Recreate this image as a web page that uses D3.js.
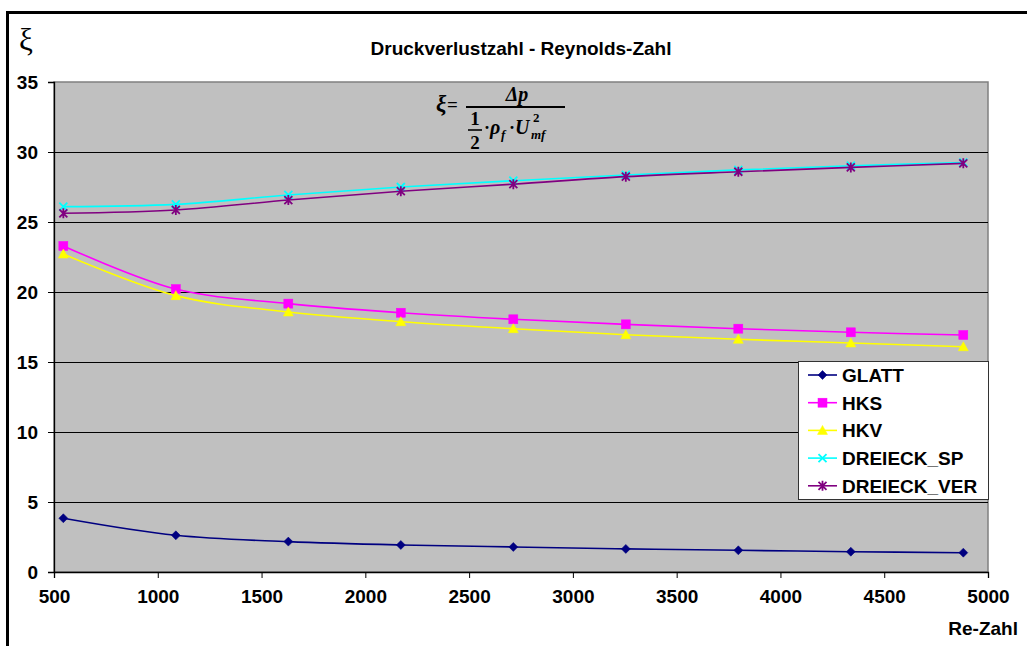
<!DOCTYPE html>
<html><head><meta charset="utf-8">
<script src="https://cdn.jsdelivr.net/npm/d3@7"></script>
<style>
html,body{margin:0;padding:0;background:#fff;}
svg text{font-family:"Liberation Sans",Arial,sans-serif;font-weight:bold;fill:#000;}
svg text.serif{font-family:"Liberation Serif","DejaVu Serif",serif;}
svg text.it{font-style:italic;}
svg text.norm{font-weight:normal;}
</style></head>
<body>
<svg id="chart" width="1027" height="646"></svg>
<script>
const reynolds = [545, 1087, 1629, 2171, 2713, 3255, 3797, 4339, 4881];
const seriesNames = ["GLATT", "HKS", "HKV", "DREIECK_SP", "DREIECK_VER"];
const glatt = [3.84, 2.62, 2.17, 1.93, 1.79, 1.65, 1.55, 1.45, 1.38];
const hks = [23.29, 20.21, 19.17, 18.52, 18.05, 17.69, 17.38, 17.12, 16.93];
const hkv = [22.71, 19.74, 18.57, 17.88, 17.38, 16.95, 16.62, 16.36, 16.09];
const dreieckSp = [26.10, 26.26, 26.93, 27.50, 27.95, 28.36, 28.72, 29.02, 29.25];
const dreieckVer = [25.62, 25.86, 26.57, 27.20, 27.70, 28.24, 28.59, 28.90, 29.19];
const xTicks = [500, 1000, 1500, 2000, 2500, 3000, 3500, 4000, 4500, 5000];
const yTicks = [0, 5, 10, 15, 20, 25, 30, 35];
const title = "Druckverlustzahl - Reynolds-Zahl";
const xTitle = "Re-Zahl";
const yTitle = "ξ";

const colors = ["#000080", "#FF00FF", "#FFFF00", "#00FFFF", "#800080"];
const markers = ["diamond", "square", "triangle", "x", "star"];
const allValues = [glatt, hks, hkv, dreieckSp, dreieckVer];

const svg = d3.select("#chart");
const L = 54, R = 988, T = 82, B = 572;
const x = d3.scaleLinear().domain([500, 5000]).range([L, R]);
const y = d3.scaleLinear().domain([0, 35]).range([B, T]);

// outer frame
svg.append("rect").attr("x", 7.5).attr("y", 12.5).attr("width", 1040).attr("height", 660)
  .attr("fill", "none").attr("stroke", "#000").attr("stroke-width", 3);

// plot area
svg.append("rect").attr("x", L).attr("y", T).attr("width", R - L).attr("height", B - T)
  .attr("fill", "#C0C0C0").attr("stroke", "#808080").attr("stroke-width", 1.5);

// gridlines
svg.append("g").selectAll("line").data(yTicks.filter(d => d > 0 && d < 35)).join("line")
  .attr("x1", L).attr("x2", R).attr("y1", d => Math.round(y(d)) + 0.5).attr("y2", d => Math.round(y(d)) + 0.5)
  .attr("stroke", "#000").attr("stroke-width", 1);

// axes
const xAxis = svg.append("g").attr("transform", `translate(0,${B})`)
  .call(d3.axisBottom(x).tickValues(xTicks).tickSize(6).tickPadding(12).tickFormat(d3.format("d")));
const yAxis = svg.append("g").attr("transform", `translate(${L},0)`)
  .call(d3.axisLeft(y).tickValues(yTicks).tickSize(6).tickPadding(10).tickFormat(d3.format("d")));
[xAxis, yAxis].forEach(a => {
  a.select(".domain").attr("stroke", "#000").attr("stroke-width", 1.3);
  a.selectAll(".tick line").attr("stroke", "#000");
  a.selectAll("text").attr("font-size", 19).attr("fill", "#000");
});

// titles
svg.append("text").attr("x", (L + R) / 2).attr("y", 55).attr("text-anchor", "middle")
  .attr("font-size", 19).text(title);
svg.append("text").attr("x", 1018).attr("y", 635).attr("text-anchor", "end")
  .attr("font-size", 19).text(xTitle);
svg.append("text").attr("class", "serif norm").attr("x", 19).attr("y", 50)
  .attr("font-size", 31).text(yTitle);

// formula
const fg = svg.append("g");
function ft(cls, xx, yy, size, txt, anchor) {
  fg.append("text").attr("class", "serif " + cls).attr("x", xx).attr("y", yy)
    .attr("font-size", size).attr("text-anchor", anchor || "start").text(txt);
}
ft("it", 436, 111, 23, "ξ");
ft("", 447, 111, 19, "=");
fg.append("line").attr("x1", 466).attr("x2", 565).attr("y1", 107).attr("y2", 107).attr("stroke", "#000").attr("stroke-width", 1.8);
ft("it", 517, 101, 20, "Δp", "middle");
ft("", 475, 125, 19, "1", "middle");
fg.append("line").attr("x1", 468).attr("x2", 482).attr("y1", 130).attr("y2", 130).attr("stroke", "#000").attr("stroke-width", 1.6);
ft("", 475, 149, 19, "2", "middle");
ft("", 484, 134, 18, "·");
ft("it", 490, 134, 20, "ρ");
ft("it", 501, 139, 13, "f");
ft("", 509, 134, 18, "·");
ft("it", 515, 134, 20, "U");
ft("", 533, 122, 13, "2");
ft("it", 531, 139, 13, "mf");

// marker drawing
function drawMarker(g, type, color, cx, cy) {
  if (type === "diamond") {
    g.append("path").attr("d", `M${cx},${cy - 4.5}L${cx + 4.5},${cy}L${cx},${cy + 4.5}L${cx - 4.5},${cy}Z`)
      .attr("fill", color).attr("stroke", color).attr("stroke-width", 0.5);
  } else if (type === "square") {
    g.append("rect").attr("x", cx - 4.5).attr("y", cy - 4.5).attr("width", 9).attr("height", 9)
      .attr("fill", color).attr("stroke", color).attr("stroke-width", 0.5);
  } else if (type === "triangle") {
    g.append("path").attr("d", `M${cx},${cy - 5}L${cx + 5},${cy + 4}L${cx - 5},${cy + 4}Z`)
      .attr("fill", color).attr("stroke", color).attr("stroke-width", 0.5);
  } else if (type === "x") {
    g.append("path").attr("d", `M${cx - 4},${cy - 4}L${cx + 4},${cy + 4}M${cx - 4},${cy + 4}L${cx + 4},${cy - 4}`)
      .attr("stroke", color).attr("stroke-width", 1.8).attr("fill", "none");
  } else {
    g.append("path").attr("d", `M${cx - 4},${cy - 4}L${cx + 4},${cy + 4}M${cx - 4},${cy + 4}L${cx + 4},${cy - 4}M${cx},${cy - 5}L${cx},${cy + 5}`)
      .attr("stroke", color).attr("stroke-width", 1.8).attr("fill", "none");
  }
}

const line = d3.line().x(d => x(d[0])).y(d => y(d[1])).curve(d3.curveCatmullRom.alpha(0.5));
allValues.forEach((vals, i) => {
  const pts = reynolds.map((r, j) => [r, vals[j]]);
  const g = svg.append("g");
  g.append("path").attr("d", line(pts)).attr("fill", "none").attr("stroke", colors[i]).attr("stroke-width", 1.6);
  pts.forEach(p => drawMarker(g, markers[i], colors[i], x(p[0]), y(p[1])));
});

// legend
const lg = svg.append("g");
lg.append("rect").attr("x", 798.5).attr("y", 361.5).attr("width", 190).attr("height", 138)
  .attr("fill", "#fff").attr("stroke", "#333").attr("stroke-width", 1);
seriesNames.forEach((n, i) => {
  const cy = 375 + i * 27.7;
  lg.append("line").attr("x1", 808).attr("x2", 837).attr("y1", cy).attr("y2", cy)
    .attr("stroke", colors[i]).attr("stroke-width", 1.6);
  drawMarker(lg, markers[i], colors[i], 822.5, cy);
  lg.append("text").attr("x", 842).attr("y", cy + 7).attr("font-size", 19).text(n);
});
</script>
</body></html>
